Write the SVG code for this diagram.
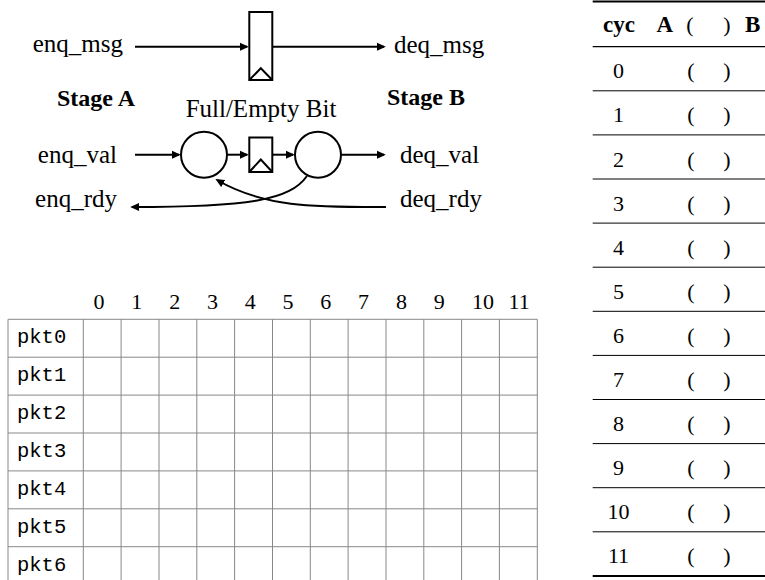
<svg xmlns="http://www.w3.org/2000/svg" width="765" height="580" viewBox="0 0 765 580">
<style>
.t{font-family:"Liberation Serif","Times New Roman",serif;font-size:25px;fill:#000}
.b{font-family:"Liberation Serif","Times New Roman",serif;font-weight:bold;font-size:24px;fill:#000}
.n{font-family:"Liberation Serif","Times New Roman",serif;font-size:22px;fill:#000}
.nb{font-family:"Liberation Serif","Times New Roman",serif;font-size:23px;font-weight:bold;fill:#000}
.m{font-family:"Liberation Mono","Courier New",monospace;font-size:20.5px;fill:#000}
.w{fill:none;stroke:#000;stroke-width:2;marker-end:url(#ah)}
.s{fill:#fff;stroke:#000;stroke-width:2}
.tri{fill:none;stroke:#000;stroke-width:2;stroke-linejoin:miter}
.g{fill:none;stroke:#888;stroke-width:1}
.r{stroke:#000;fill:none}
</style>
<defs>
<marker id="ah" viewBox="0 0 10 10" refX="8" refY="5" markerWidth="9" markerHeight="9" markerUnits="userSpaceOnUse" orient="auto">
<path d="M0,0.5 L10,5 L0,9.5 z" fill="#000"/>
</marker>
</defs>

<g id="labels">
<text class="t" x="123" y="52" text-anchor="end">enq_msg</text>
<text class="t" x="394" y="53">deq_msg</text>
<text class="b" x="96" y="106" text-anchor="middle">Stage A</text>
<text class="b" x="426" y="105" text-anchor="middle">Stage B</text>
<text class="t" x="261" y="117" text-anchor="middle">Full/Empty Bit</text>
<text class="t" x="117" y="163" text-anchor="end">enq_val</text>
<text class="t" x="400" y="163">deq_val</text>
<text class="t" x="117" y="207" text-anchor="end">enq_rdy</text>
<text class="t" x="400" y="207">deq_rdy</text>
</g>

<g id="msg_reg">
<rect class="s" x="249.3" y="12" width="23" height="68"/>
<path class="tri" d="M249.3,80 L260.8,68.3 L272.3,80"/>
</g>

<g id="val_and_a">
<circle class="s" cx="204" cy="154.7" r="23"/>
</g>

<g id="fe_reg">
<rect class="s" x="249.3" y="137.5" width="23" height="34.5"/>
<path class="tri" d="M249.3,172 L260.8,159.5 L272.3,172"/>
</g>

<g id="val_and_b">
<circle class="s" cx="318" cy="154.7" r="23"/>
</g>

<g id="connectors">
<path class="w" d="M135,46.7 H247"/>
<path class="w" d="M272.3,46.7 H384"/>
<path class="w" d="M135,154.7 H179"/>
<path class="w" d="M227,154.7 H247"/>
<path class="w" d="M272.3,154.7 H293"/>
<path class="w" d="M341,154.7 H384"/>
<path class="w" d="M386,207 C317,207 265,208 217,180"/>
<path class="w" d="M307,176 C290,200 250,207 132,207"/>
</g>

<g id="grid">
<path class="g" d="M8,319.3 H537.3 M8,357.2 H537.3 M8,395.1 H537.3 M8,433 H537.3 M8,470.9 H537.3 M8,508.8 H537.3 M8,546.7 H537.3
M8,319.3 V580 M83.3,319.3 V580 M121.1,319.3 V580 M159,319.3 V580 M196.8,319.3 V580 M234.6,319.3 V580 M272.5,319.3 V580 M310.3,319.3 V580 M348.1,319.3 V580 M386,319.3 V580 M423.8,319.3 V580 M461.6,319.3 V580 M499.4,319.3 V580 M537.3,319.3 V580"/>
<text class="n" x="93.5" y="309">0</text>
<text class="n" x="131.3" y="309">1</text>
<text class="n" x="169.2" y="309">2</text>
<text class="n" x="207" y="309">3</text>
<text class="n" x="244.8" y="309">4</text>
<text class="n" x="282.5" y="309">5</text>
<text class="n" x="320.3" y="309">6</text>
<text class="n" x="358.1" y="309">7</text>
<text class="n" x="396" y="309">8</text>
<text class="n" x="433.8" y="309">9</text>
<text class="n" x="472" y="309">10</text>
<text class="n" x="508.5" y="309">11</text>
<text class="m" x="17" y="343.3">pkt0</text>
<text class="m" x="17" y="381.2">pkt1</text>
<text class="m" x="17" y="419.1">pkt2</text>
<text class="m" x="17" y="457">pkt3</text>
<text class="m" x="17" y="494.9">pkt4</text>
<text class="m" x="17" y="532.8">pkt5</text>
<text class="m" x="17" y="570.7">pkt6</text>
</g>

<g id="table">
<path class="r" stroke-width="2" d="M592.7,1.5 H765"/>
<path class="r" stroke-width="1.3" d="M592.7,46.7 H765"/>
<path class="r" stroke-width="1" d="M592.7,90.8 H765 M592.7,134.9 H765 M592.7,179 H765 M592.7,223.1 H765 M592.7,267.2 H765 M592.7,311.3 H765 M592.7,355.4 H765 M592.7,399.5 H765 M592.7,443.6 H765 M592.7,487.7 H765 M592.7,531.8 H765"/>
<path class="r" stroke-width="2" d="M592.7,576 H765"/>
<text class="nb" x="619" y="32" text-anchor="middle">cyc</text>
<text class="nb" x="664.7" y="32" text-anchor="middle">A</text>
<text class="n" x="690" y="32" text-anchor="middle">(</text>
<text class="n" x="727" y="32" text-anchor="middle">)</text>
<text class="nb" x="745" y="32">B</text>
<g class="n" text-anchor="middle">
<text x="618.5" y="78.3">0</text><text x="691" y="78.3">(</text><text x="727" y="78.3">)</text>
<text x="618.5" y="122.4">1</text><text x="691" y="122.4">(</text><text x="727" y="122.4">)</text>
<text x="618.5" y="166.5">2</text><text x="691" y="166.5">(</text><text x="727" y="166.5">)</text>
<text x="618.5" y="210.6">3</text><text x="691" y="210.6">(</text><text x="727" y="210.6">)</text>
<text x="618.5" y="254.7">4</text><text x="691" y="254.7">(</text><text x="727" y="254.7">)</text>
<text x="618.5" y="298.8">5</text><text x="691" y="298.8">(</text><text x="727" y="298.8">)</text>
<text x="618.5" y="342.9">6</text><text x="691" y="342.9">(</text><text x="727" y="342.9">)</text>
<text x="618.5" y="387">7</text><text x="691" y="387">(</text><text x="727" y="387">)</text>
<text x="618.5" y="431.1">8</text><text x="691" y="431.1">(</text><text x="727" y="431.1">)</text>
<text x="618.5" y="475.2">9</text><text x="691" y="475.2">(</text><text x="727" y="475.2">)</text>
<text x="618.5" y="519.3">10</text><text x="691" y="519.3">(</text><text x="727" y="519.3">)</text>
<text x="618.5" y="563.4">11</text><text x="691" y="563.4">(</text><text x="727" y="563.4">)</text>
</g>
</g>
</svg>
